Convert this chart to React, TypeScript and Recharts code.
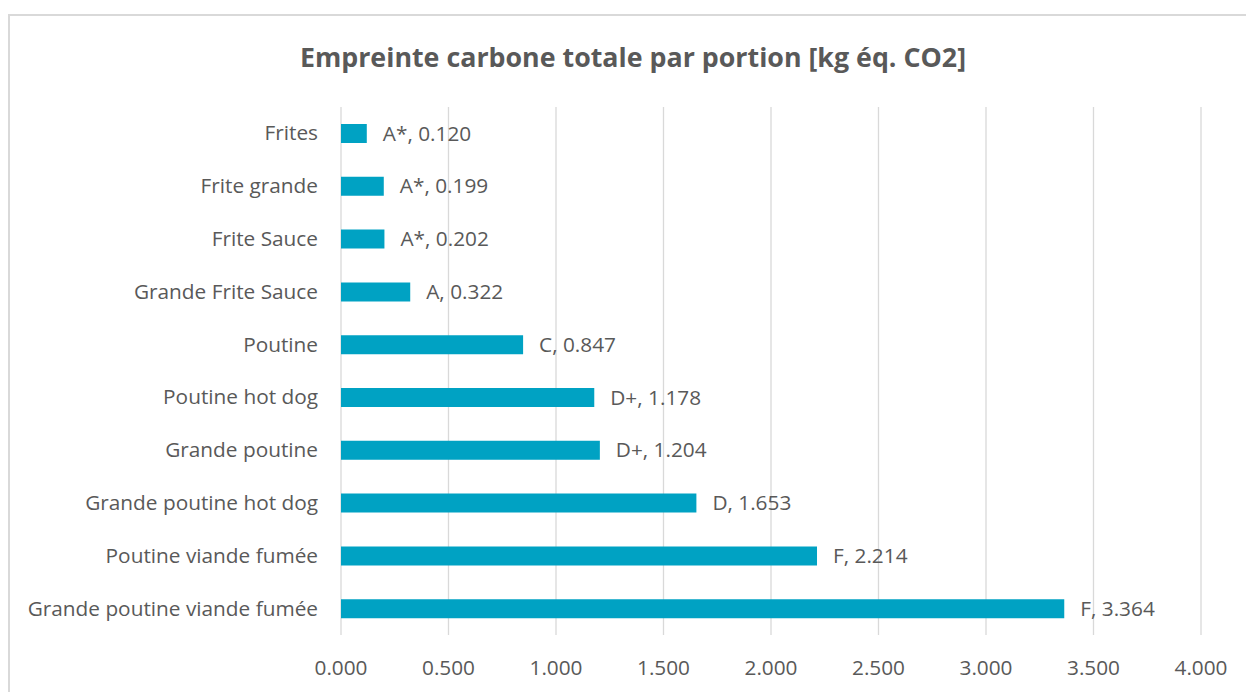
import React from "react";
import { BarChart, Bar, XAxis, YAxis, CartesianGrid, LabelList } from "recharts";

const categories = [
  "Frites",
  "Frite grande",
  "Frite Sauce",
  "Grande Frite Sauce",
  "Poutine",
  "Poutine hot dog",
  "Grande poutine",
  "Grande poutine hot dog",
  "Poutine viande fumée",
  "Grande poutine viande fumée",
];
const values = [0.12, 0.199, 0.202, 0.322, 0.847, 1.178, 1.204, 1.653, 2.214, 3.364];
const grades = ["A*", "A*", "A*", "A", "C", "D+", "D+", "D", "F", "F"];
const xTicks = [0, 0.5, 1, 1.5, 2, 2.5, 3, 3.5, 4];
const title = "Empreinte carbone totale par portion [kg éq. CO2]";

const data = categories.map((name, i) => ({ name, value: values[i], grade: grades[i] }));

const FONT = "'Open Sans', 'Segoe UI', sans-serif";
const TEXT = "#595959";
const FS = 20.8;

const XTick = (props: any) => {
  const { x, y, payload } = props;
  return (
    <text x={x} y={y + 39.5} textAnchor="middle" fill={TEXT} fontSize={FS} fontFamily={FONT}>
      {payload.value.toFixed(3)}
    </text>
  );
};

const YTick = (props: any) => {
  const { x, y, payload } = props;
  return (
    <text x={x - 23} y={y + 7} textAnchor="end" fill={TEXT} fontSize={FS} fontFamily={FONT}>
      {payload.value}
    </text>
  );
};

const BarLabel = (props: any) => {
  const { x, y, width, height, index } = props;
  const d = data[index];
  return (
    <text x={x + width + 16} y={y + height / 2 + 7} fill={TEXT} fontSize={FS} fontFamily={FONT}>
      {`${d.grade}, ${d.value.toFixed(3)}`}
    </text>
  );
};

export default function App() {
  return (
    <div
      style={{
        position: "absolute",
        left: 0,
        top: 0,
        width: 1246,
        height: 692,
        overflow: "hidden",
        background: "#fff",
      }}
    >
      <div
        style={{
          position: "absolute",
          left: 8,
          top: 14,
          width: 1400,
          height: 900,
          border: "2px solid #d9d9d9",
        }}
      />
      <div
        style={{
          position: "absolute",
          left: 0,
          top: 39,
          width: 1266,
          textAlign: "center",
          fontFamily: FONT,
          fontWeight: 700,
          fontSize: 26.8,
          color: TEXT,
          lineHeight: "36px",
        }}
      >
        {title}
      </div>
      <div style={{ position: "absolute", left: 0, top: 0 }}>
        <BarChart
          width={1246}
          height={692}
          data={data}
          layout="vertical"
          margin={{ top: 107, right: 45, bottom: 0, left: 0 }}
          barCategoryGap={0}
        >
          <CartesianGrid horizontal={false} vertical={true} stroke="#d9d9d9" strokeWidth={1.3} />
          <XAxis
            type="number"
            domain={[0, 4]}
            ticks={xTicks}
            axisLine={false}
            tickLine={false}
            tickSize={0}
            tickMargin={0}
            height={57}
            tick={<XTick />}
            interval={0}
          />
          <YAxis
            type="category"
            dataKey="name"
            width={341}
            axisLine={false}
            tickLine={false}
            tickSize={0}
            tickMargin={0}
            tick={<YTick />}
            interval={0}
          />
          <Bar dataKey="value" fill="#00A2C3" barSize={19} isAnimationActive={false}>
            <LabelList dataKey="value" content={<BarLabel />} />
          </Bar>
        </BarChart>
      </div>
    </div>
  );
}
